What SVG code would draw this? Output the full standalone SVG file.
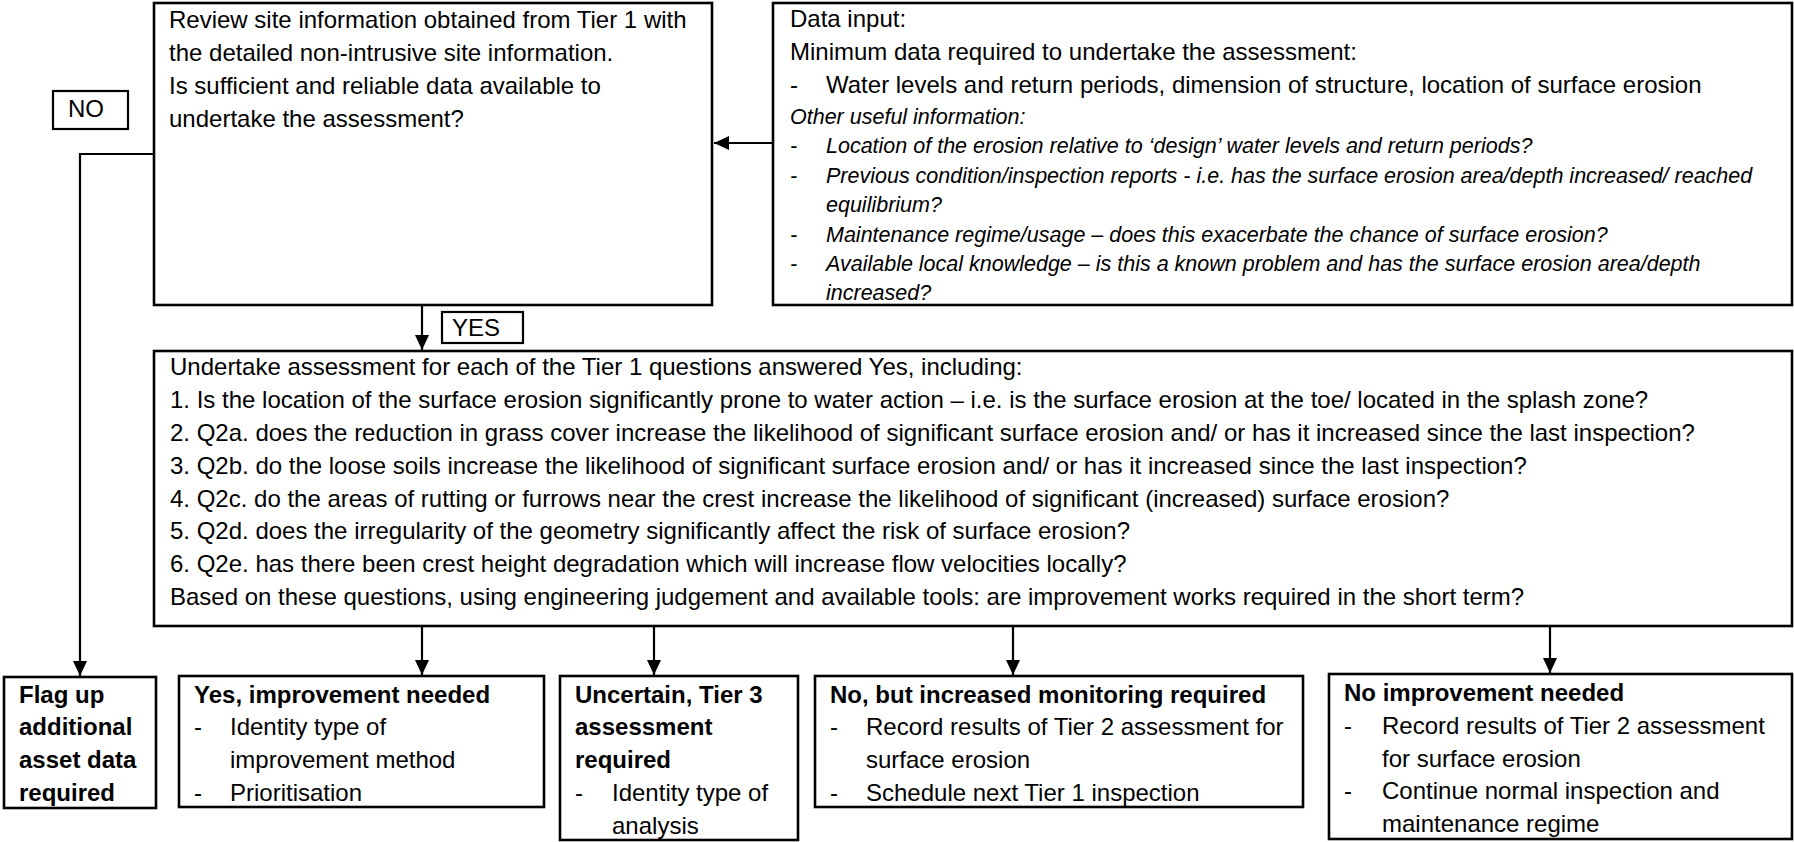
<svg xmlns="http://www.w3.org/2000/svg" width="1794" height="842" viewBox="0 0 1794 842">
<style>
text{font-family:"Liberation Sans",Arial,sans-serif;font-size:24px;fill:#000}
.it{font-style:italic;font-size:21.5px}
.b{font-weight:bold}
.box{fill:#fff;stroke:#000;stroke-width:2.6}
.lbl{fill:#fff;stroke:#000;stroke-width:2.2}
.con{fill:none;stroke:#000;stroke-width:2.2}
</style>
<defs>
<marker id="ah" markerWidth="15" markerHeight="14" refX="15" refY="7" orient="auto" markerUnits="userSpaceOnUse">
<path d="M0,0 L15,7 L0,14 Z" fill="#000"/>
</marker>
</defs>
<rect width="1794" height="842" fill="#fff"/>

<g id="connectors">
<path class="con" d="M154,154 H80 V676" marker-end="url(#ah)"/>
<path class="con" d="M773,143 H714" marker-end="url(#ah)"/>
<path class="con" d="M422,305 V350" marker-end="url(#ah)"/>
<path class="con" d="M422,626 V675" marker-end="url(#ah)"/>
<path class="con" d="M654,626 V675" marker-end="url(#ah)"/>
<path class="con" d="M1013,626 V675" marker-end="url(#ah)"/>
<path class="con" d="M1550,626 V673" marker-end="url(#ah)"/>
</g>

<g id="label-no">
<rect class="lbl" x="53" y="91" width="75" height="38"/>
<text x="68" y="117">NO</text>
</g>

<g id="label-yes">
<rect class="lbl" x="442" y="312" width="81" height="31"/>
<text x="452" y="336">YES</text>
</g>

<g id="review">
<rect class="box" x="154" y="3" width="558" height="302"/>
<text x="169" y="28">Review site information obtained from Tier 1 with</text>
<text x="169" y="61">the detailed non-intrusive site information.</text>
<text x="169" y="94">Is sufficient and reliable data available to</text>
<text x="169" y="127">undertake the assessment?</text>
</g>

<g id="data-input">
<rect class="box" x="773" y="3" width="1019" height="302"/>
<text x="790" y="27">Data input:</text>
<text x="790" y="60">Minimum data required to undertake the assessment:</text>
<text x="790" y="93">-</text><text x="826" y="93">Water levels and return periods, dimension of structure, location of surface erosion</text>
<text class="it" x="790" y="124">Other useful information:</text>
<text class="it" x="790" y="153">-</text><text class="it" x="826" y="153">Location of the erosion relative to ‘design’ water levels and return periods?</text>
<text class="it" x="790" y="183">-</text><text class="it" x="826" y="183">Previous condition/inspection reports - i.e. has the surface erosion area/depth increased/ reached</text>
<text class="it" x="826" y="212">equilibrium?</text>
<text class="it" x="790" y="242">-</text><text class="it" x="826" y="242">Maintenance regime/usage – does this exacerbate the chance of surface erosion?</text>
<text class="it" x="790" y="271">-</text><text class="it" x="826" y="271">Available local knowledge – is this a known problem and has the surface erosion area/depth</text>
<text class="it" x="826" y="300">increased?</text>
</g>

<g id="assessment">
<rect class="box" x="154" y="351" width="1638" height="275"/>
<text x="170" y="375">Undertake assessment for each of the Tier 1 questions answered Yes, including:</text>
<text x="170" y="408">1. Is the location of the surface erosion significantly prone to water action – i.e. is the surface erosion at the toe/ located in the splash zone?</text>
<text x="170" y="441">2. Q2a. does the reduction in grass cover increase the likelihood of significant surface erosion and/ or has it increased since the last inspection?</text>
<text x="170" y="474">3. Q2b. do the loose soils increase the likelihood of significant surface erosion and/ or has it increased since the last inspection?</text>
<text x="170" y="507">4. Q2c. do the areas of rutting or furrows near the crest increase the likelihood of significant (increased) surface erosion?</text>
<text x="170" y="539">5. Q2d. does the irregularity of the geometry significantly affect the risk of surface erosion?</text>
<text x="170" y="572">6. Q2e. has there been crest height degradation which will increase flow velocities locally?</text>
<text x="170" y="605">Based on these questions, using engineering judgement and available tools: are improvement works required in the short term?</text>
</g>

<g id="flag">
<rect class="box" x="4" y="677" width="152" height="131"/>
<text class="b" x="19" y="703">Flag up</text>
<text class="b" x="19" y="735">additional</text>
<text class="b" x="19" y="768">asset data</text>
<text class="b" x="19" y="801">required</text>
</g>

<g id="yes-improvement">
<rect class="box" x="179" y="676" width="365" height="131"/>
<text class="b" x="194" y="703">Yes, improvement needed</text>
<text x="194" y="735">-</text><text x="230" y="735">Identity type of</text>
<text x="230" y="768">improvement method</text>
<text x="194" y="801">-</text><text x="230" y="801">Prioritisation</text>
</g>

<g id="uncertain">
<rect class="box" x="560" y="676" width="238" height="164"/>
<text class="b" x="575" y="703">Uncertain, Tier 3</text>
<text class="b" x="575" y="735">assessment</text>
<text class="b" x="575" y="768">required</text>
<text x="575" y="801">-</text><text x="612" y="801">Identity type of</text>
<text x="612" y="834">analysis</text>
</g>

<g id="monitoring">
<rect class="box" x="815" y="676" width="488" height="131"/>
<text class="b" x="830" y="703">No, but increased monitoring required</text>
<text x="830" y="735">-</text><text x="866" y="735">Record results of Tier 2 assessment for</text>
<text x="866" y="768">surface erosion</text>
<text x="830" y="801">-</text><text x="866" y="801">Schedule next Tier 1 inspection</text>
</g>

<g id="no-improvement">
<rect class="box" x="1329" y="674" width="463" height="165"/>
<text class="b" x="1344" y="701">No improvement needed</text>
<text x="1344" y="734">-</text><text x="1382" y="734">Record results of Tier 2 assessment</text>
<text x="1382" y="767">for surface erosion</text>
<text x="1344" y="799">-</text><text x="1382" y="799">Continue normal inspection and</text>
<text x="1382" y="832">maintenance regime</text>
</g>
</svg>
